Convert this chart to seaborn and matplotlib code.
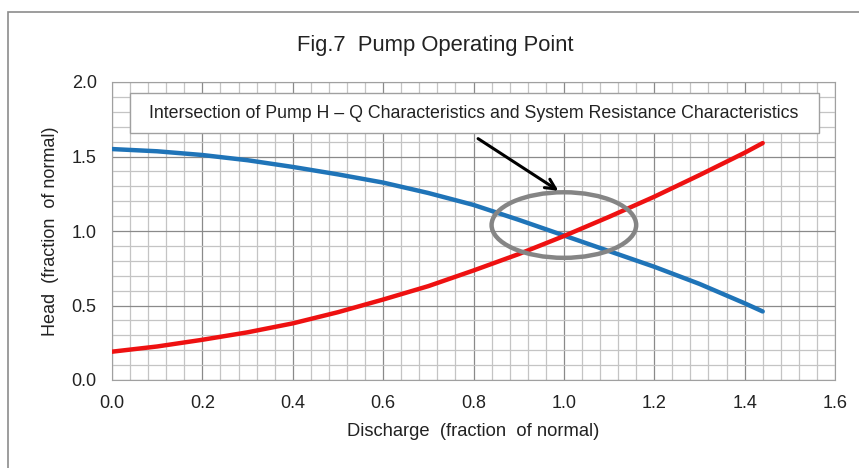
import numpy as np
import pandas as pd
import matplotlib
matplotlib.use("Agg")
import matplotlib.pyplot as plt
from matplotlib.patches import Ellipse, Rectangle
from matplotlib.ticker import MultipleLocator
import seaborn as sns

# values
discharge = [0.0, 0.1, 0.2, 0.3, 0.4, 0.5, 0.6, 0.7, 0.8, 0.9, 1.0, 1.1, 1.2, 1.3, 1.4, 1.44]
pump_head = [1.55, 1.535, 1.51, 1.475, 1.43, 1.38, 1.325, 1.255, 1.175, 1.075, 0.97, 0.865, 0.76, 0.645, 0.515, 0.46]
system_head = [0.19, 0.225, 0.27, 0.32, 0.38, 0.455, 0.54, 0.63, 0.735, 0.845, 0.966, 1.095, 1.23, 1.375, 1.525, 1.59]

title = "Fig.7  Pump Operating Point"
note = "Intersection of Pump H \u2013 Q Characteristics and System Resistance Characteristics"

df = pd.DataFrame({"Q": discharge, "pump": pump_head, "system": system_head})

sns.set_style("white")
plt.rcParams['font.family'] = ['Liberation Sans', 'DejaVu Sans']

fig = plt.figure(figsize=(8.59, 4.68), dpi=100)
ax = fig.add_axes([112/859, 1-380/468, (835-112)/859, (380-82)/468])

# outer chart frame (only left and top are visible in the picture)
fig.patches.append(Rectangle((8/859, -0.1), 1.2, 1-12/468+0.1, transform=fig.transFigure,
                             fill=False, edgecolor='#8c8c8c', linewidth=1.2))

sns.lineplot(data=df, x="Q", y="pump", ax=ax, color='#1f74b8', linewidth=3.2, zorder=5)
sns.lineplot(data=df, x="Q", y="system", ax=ax, color='#ee1111', linewidth=3.2, zorder=5)

ax.set_xlim(0, 1.6)
ax.set_ylim(0, 2.0)
ax.xaxis.set_major_locator(MultipleLocator(0.2))
ax.xaxis.set_minor_locator(MultipleLocator(0.04))
ax.yaxis.set_major_locator(MultipleLocator(0.5))
ax.yaxis.set_minor_locator(MultipleLocator(0.1))
ax.xaxis.set_major_formatter(lambda v, p: f"{v:.1f}")
ax.yaxis.set_major_formatter(lambda v, p: f"{v:.1f}")
ax.grid(which='major', color='#8a8a8a', linewidth=0.9)
ax.grid(which='minor', color='#c4c4c4', linewidth=0.9)
ax.set_axisbelow(True)
for s in ax.spines.values():
    s.set_color('#a0a0a0')
ax.tick_params(which='major', direction='out', length=5, color='#909090', labelsize=13,
               labelcolor='#222222', pad=6)
ax.tick_params(which='minor', length=0)

ax.set_xlabel("Discharge  (fraction  of normal)", fontsize=13.2, color='#222222', labelpad=8)
ax.set_ylabel("Head  (fraction  of normal)", fontsize=13, color='#222222', labelpad=9)
fig.text((297+573)/2/859, 1-45/468, title, ha='center', va='center', fontsize=15.8, color='#222222')

# annotation box
ax.add_patch(Rectangle((0.04, 1.658), 1.525, 0.268, facecolor='white', edgecolor='#a0a0a0',
                       linewidth=1, zorder=6))
ax.text(0.80, 1.79, note, ha='center', va='center', fontsize=12.8, color='#222222', zorder=7)

ax.annotate("", xy=(0.993, 1.26), xytext=(0.805, 1.63),
            arrowprops=dict(arrowstyle='->', color='black', linewidth=2.2, mutation_scale=18), zorder=7)
ax.add_patch(Ellipse((1.0, 1.04), 0.32, 0.44, fill=False, edgecolor='#858585', linewidth=3.2, zorder=6))

fig.savefig("out.png", dpi=100)
